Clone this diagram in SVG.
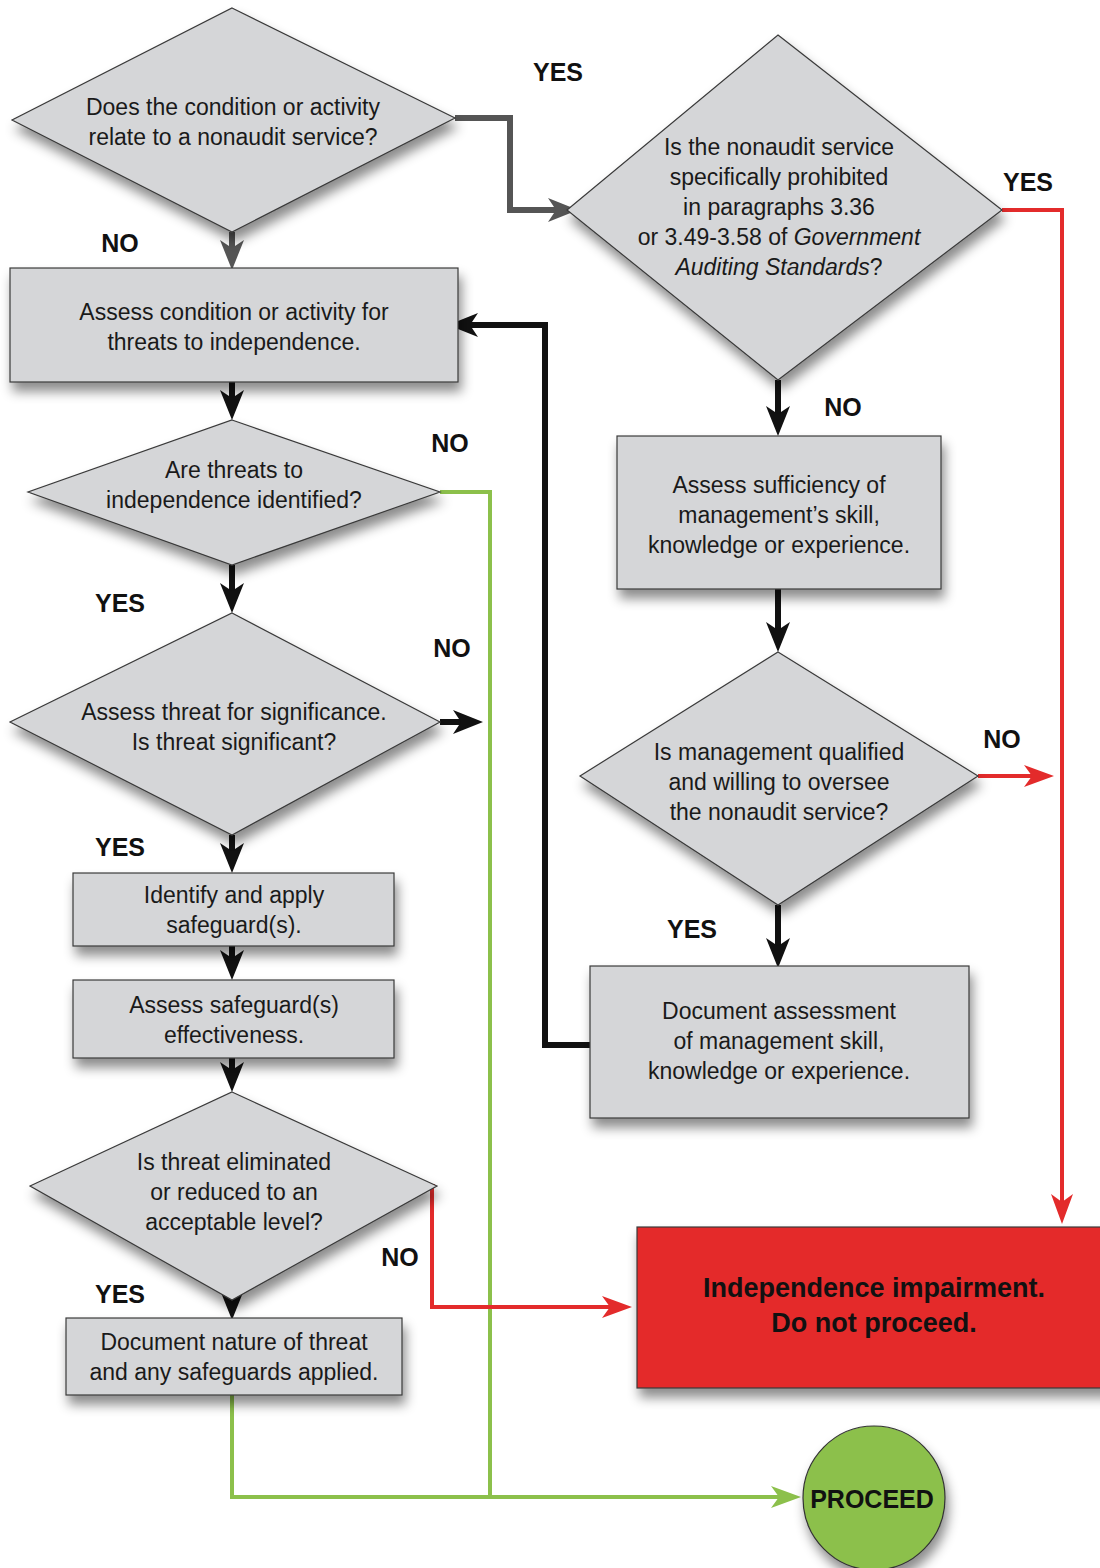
<svg xmlns="http://www.w3.org/2000/svg" width="1100" height="1568" viewBox="0 0 1100 1568">
<defs>
<filter id="sh" x="-20%" y="-20%" width="140%" height="150%">
<feDropShadow dx="3" dy="9" stdDeviation="6" flood-color="#000" flood-opacity="0.45"/>
</filter>
<marker id="aBlack" markerUnits="userSpaceOnUse" markerWidth="30" markerHeight="26" viewBox="0 0 30 26" refX="21" refY="13" orient="auto"><path d="M0,1 L30,13 L0,25 L8,13 z" fill="#111"/></marker>
<marker id="aGray" markerUnits="userSpaceOnUse" markerWidth="30" markerHeight="26" viewBox="0 0 30 26" refX="21" refY="13" orient="auto"><path d="M0,1 L30,13 L0,25 L8,13 z" fill="#555"/></marker>
<marker id="aRed" markerUnits="userSpaceOnUse" markerWidth="30" markerHeight="24" viewBox="0 0 30 24" refX="24" refY="12" orient="auto"><path d="M0,1 L30,12 L0,23 L8,12 z" fill="#e32b2b"/></marker>
<marker id="aGreen" markerUnits="userSpaceOnUse" markerWidth="30" markerHeight="24" viewBox="0 0 30 24" refX="24" refY="12" orient="auto"><path d="M0,1 L30,12 L0,23 L8,12 z" fill="#8cc04b"/></marker>
</defs>
<style>
.n{fill:#d5d6d8;stroke:#3a3a3a;stroke-width:1.2;filter:url(#sh)}
.t{font-family:"Liberation Sans",Arial,sans-serif;font-size:23px;fill:#1a1a1a;text-anchor:middle}
.l{font-family:"Liberation Sans",Arial,sans-serif;font-size:25px;font-weight:bold;fill:#111;text-anchor:middle}
.big{font-size:27px}
.cb{fill:none;stroke:#111;stroke-width:6}
.cg{fill:none;stroke:#555;stroke-width:6}
.cr{fill:none;stroke:#e32b2b;stroke-width:4}
.cgr{fill:none;stroke:#8cc04b;stroke-width:4}
</style>
<rect width="1100" height="1568" fill="#ffffff"/>

<g id="connectors">
<path class="cg" d="M455,118 H510 V210 H569" marker-end="url(#aGray)"/>
<path class="cg" d="M232,232 V261" marker-end="url(#aGray)"/>
<path class="cr" d="M1002,210 H1062 V1218" marker-end="url(#aRed)"/>
<path class="cb" d="M778,380 V427" marker-end="url(#aBlack)"/>
<path class="cb" d="M778,589 V643" marker-end="url(#aBlack)"/>
<path class="cr" d="M978,776 H1048" marker-end="url(#aRed)"/>
<path class="cb" d="M778,905 V959" marker-end="url(#aBlack)"/>
<path class="cb" d="M590,1045 H545 V325 H457" marker-end="url(#aBlack)"/>
<path class="cb" d="M232,382 V411" marker-end="url(#aBlack)"/>
<path class="cgr" d="M440,492 H490 V1497"/>
<path class="cb" d="M232,565 V604" marker-end="url(#aBlack)"/>
<path class="cb" d="M440,722 H474" marker-end="url(#aBlack)"/>
<path class="cb" d="M232,835 V864" marker-end="url(#aBlack)"/>
<path class="cb" d="M232,946 V971" marker-end="url(#aBlack)"/>
<path class="cb" d="M232,1058 V1083" marker-end="url(#aBlack)"/>
<path class="cr" d="M435,1186 H432 V1307 H626" marker-end="url(#aRed)"/>
<path class="cb" d="M232,1300 V1311" marker-end="url(#aBlack)"/>
<path class="cgr" d="M232,1395 V1497 H795" marker-end="url(#aGreen)"/>
</g>

<g id="n1">
<polygon class="n" points="232,8 455,118 232,232 12,120"/>
<text class="t" x="233" y="115">Does the condition or activity</text>
<text class="t" x="233" y="145">relate to a nonaudit service?</text>
</g>
<g id="n2">
<polygon class="n" points="778,35 1002,210 778,380 567,210"/>
<text class="t" x="779" y="155">Is the nonaudit service</text>
<text class="t" x="779" y="185">specifically prohibited</text>
<text class="t" x="779" y="215">in paragraphs 3.36</text>
<text class="t" x="779" y="245">or 3.49-3.58 of <tspan font-style="italic">Government</tspan></text>
<text class="t" x="779" y="275"><tspan font-style="italic">Auditing Standards</tspan>?</text>
</g>
<g id="n3">
<rect class="n" x="10" y="268" width="448" height="114"/>
<text class="t" x="234" y="320">Assess condition or activity for</text>
<text class="t" x="234" y="350">threats to independence.</text>
</g>
<g id="n4">
<polygon class="n" points="232,420 440,492 232,565 28,492"/>
<text class="t" x="234" y="478">Are threats to</text>
<text class="t" x="234" y="508">independence identified?</text>
</g>
<g id="n5">
<polygon class="n" points="232,613 440,722 232,835 10,722"/>
<text class="t" x="234" y="720">Assess threat for significance.</text>
<text class="t" x="234" y="750">Is threat significant?</text>
</g>
<g id="n6">
<rect class="n" x="73" y="873" width="321" height="73"/>
<text class="t" x="234" y="903">Identify and apply</text>
<text class="t" x="234" y="933">safeguard(s).</text>
</g>
<g id="n7">
<rect class="n" x="73" y="980" width="321" height="78"/>
<text class="t" x="234" y="1013">Assess safeguard(s)</text>
<text class="t" x="234" y="1043">effectiveness.</text>
</g>
<g id="n8">
<polygon class="n" points="232,1092 437,1186 232,1300 30,1186"/>
<text class="t" x="234" y="1170">Is threat eliminated</text>
<text class="t" x="234" y="1200">or reduced to an</text>
<text class="t" x="234" y="1230">acceptable level?</text>
</g>
<g id="n9">
<rect class="n" x="66" y="1318" width="336" height="77"/>
<text class="t" x="234" y="1350">Document nature of threat</text>
<text class="t" x="234" y="1380">and any safeguards applied.</text>
</g>
<g id="n10">
<rect class="n" x="617" y="436" width="324" height="153"/>
<text class="t" x="779" y="493">Assess sufficiency of</text>
<text class="t" x="779" y="523">management’s skill,</text>
<text class="t" x="779" y="553">knowledge or experience.</text>
</g>
<g id="n11">
<polygon class="n" points="778,652 978,776 778,905 580,776"/>
<text class="t" x="779" y="760">Is management qualified</text>
<text class="t" x="779" y="790">and willing to oversee</text>
<text class="t" x="779" y="820">the nonaudit service?</text>
</g>
<g id="n12">
<rect class="n" x="590" y="966" width="379" height="152"/>
<text class="t" x="779" y="1019">Document assessment</text>
<text class="t" x="779" y="1049">of management skill,</text>
<text class="t" x="779" y="1079">knowledge or experience.</text>
</g>
<g id="n13">
<rect x="637" y="1227" width="480" height="161" fill="#e42c2b" stroke="#3a3a3a" stroke-width="1.2" filter="url(#sh)"/>
<text class="l big" x="874" y="1297">Independence impairment.</text>
<text class="l big" x="874" y="1332">Do not proceed.</text>
</g>
<g id="n14">
<ellipse cx="874" cy="1498" rx="71" ry="72" fill="#8cc04b" stroke="#333" stroke-width="1.2" filter="url(#sh)"/>
<text class="l" x="872" y="1508">PROCEED</text>
</g>

<g id="labels">
<text class="l" x="558" y="81">YES</text>
<text class="l" x="1028" y="191">YES</text>
<text class="l" x="120" y="252">NO</text>
<text class="l" x="843" y="416">NO</text>
<text class="l" x="450" y="452">NO</text>
<text class="l" x="120" y="612">YES</text>
<text class="l" x="452" y="657">NO</text>
<text class="l" x="1002" y="748">NO</text>
<text class="l" x="120" y="856">YES</text>
<text class="l" x="692" y="938">YES</text>
<text class="l" x="400" y="1266">NO</text>
<text class="l" x="120" y="1303">YES</text>
</g>
</svg>
